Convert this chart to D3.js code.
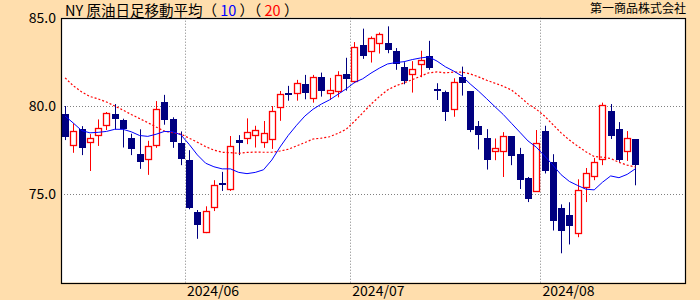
<!DOCTYPE html>
<html>
<head>
<meta charset="utf-8">
<script src="https://cdn.jsdelivr.net/npm/d3@7"></script>
<style>
  body { margin: 0; background: #ffdead; }
  svg { display: block; }
  text { font-family: 'Noto Sans CJK JP', sans-serif; }
</style>
</head>
<body>
<svg id="chart" width="700" height="300"></svg>
<script>
// trading days shown, per month
const mayDays = [13, 14, 15, 16, 17, 20, 21, 22, 23, 24, 27, 28, 29, 30, 31]
const junDays = [3, 4, 5, 6, 7, 10, 11, 12, 13, 14, 17, 18, 19, 20, 21, 24, 25, 26, 27, 28]
const julDays = [1, 2, 3, 4, 5, 8, 9, 10, 11, 12, 15, 16, 17, 18, 19, 22, 23, 24, 25, 26, 29, 30, 31]
const augDays = [1, 2, 5, 6, 7, 8, 9, 12, 13, 14, 15, 16]

const opens = [
  79.55, 77.77, 78.69, 77.97, 78.34, 78.90, 79.55, 79.20, 78.20, 77.29,
  77.01, 77.77, 80.23, 79.26, 77.90, 76.93, 73.98, 72.86, 74.28, 75.58,
  75.32, 78.07, 78.20, 78.34, 77.94, 78.11, 79.93, 80.68, 80.72, 81.25,
  80.45, 81.63, 80.72, 80.84, 81.82, 81.44, 83.43, 83.14, 83.56, 83.56,
  83.11, 82.20, 81.80, 82.37, 82.84, 80.89, 80.81, 79.81, 81.63, 80.85,
  78.90, 78.22, 77.44, 77.48, 78.30, 77.27, 75.93, 75.21, 78.58, 76.84,
  74.20, 73.81, 72.80, 75.41, 76.01, 76.99, 79.72, 78.69, 77.48, 78.13
]
const highs = [
  80.00, 79.02, 78.86, 78.41, 79.24, 79.66, 80.11, 79.28, 78.43, 78.68,
  78.03, 80.28, 80.63, 79.36, 78.56, 77.50, 74.11, 74.32, 75.80, 76.27,
  78.30, 78.35, 79.30, 78.88, 79.15, 80.00, 80.85, 81.14, 81.48, 81.76,
  81.76, 81.89, 81.59, 81.97, 82.73, 83.62, 84.38, 83.94, 84.16, 84.51,
  83.28, 82.48, 82.54, 83.13, 83.69, 81.29, 80.87, 81.57, 82.23, 80.85,
  79.15, 78.69, 78.16, 78.52, 78.30, 77.63, 75.98, 78.64, 78.88, 77.27,
  74.43, 74.55, 75.85, 76.49, 77.06, 80.19, 80.11, 79.09, 78.58, 78.13
]
const lows = [
  78.07, 77.35, 77.22, 76.32, 77.74, 78.64, 78.68, 77.65, 77.22, 76.44,
  76.10, 77.63, 78.94, 77.63, 76.65, 74.15, 72.48, 72.80, 74.05, 75.19,
  75.19, 77.22, 77.84, 77.65, 77.63, 77.57, 79.16, 80.30, 80.30, 80.38,
  80.19, 80.53, 80.34, 80.49, 80.87, 81.29, 82.67, 82.46, 82.97, 82.99,
  82.05, 81.23, 80.76, 81.63, 82.05, 80.34, 79.15, 79.39, 80.59, 78.52,
  77.54, 76.40, 76.93, 75.98, 76.65, 75.30, 74.56, 75.15, 76.18, 72.95,
  71.66, 72.16, 72.57, 74.56, 75.80, 76.65, 78.13, 76.84, 76.89, 75.51
]
const closes = [
  78.26, 78.56, 77.63, 78.16, 78.73, 79.59, 79.26, 78.69, 77.56, 76.84,
  77.73, 79.83, 79.20, 77.94, 77.01, 74.22, 73.24, 74.07, 75.55, 75.56,
  77.73, 77.91, 78.51, 78.62, 78.45, 79.72, 80.66, 80.66, 81.29, 80.72,
  81.63, 80.84, 80.89, 81.74, 81.53, 83.34, 82.80, 83.85, 84.07, 83.14,
  82.37, 81.38, 82.09, 82.60, 82.18, 80.87, 79.68, 81.38, 81.29, 78.64,
  78.37, 76.95, 77.60, 78.28, 77.16, 75.81, 74.73, 77.88, 76.29, 73.48,
  72.91, 73.20, 75.23, 76.18, 76.82, 80.06, 78.31, 76.95, 78.16, 76.66
]
// moving averages as plotted (10-day blue, 20-day red)
const ma10 = [
  79.43, 79.03, 78.61, 78.48, 78.51, 78.56, 78.68, 78.68, 78.54, 78.33,
  78.28, 78.40, 78.56, 78.54, 78.37, 77.83, 77.23, 76.76, 76.56, 76.44,
  76.44, 76.24, 76.17, 76.24, 76.39, 76.94, 77.68, 78.34, 78.91, 79.43,
  79.82, 80.11, 80.35, 80.66, 80.97, 81.33, 81.54, 81.86, 82.14, 82.38,
  82.46, 82.51, 82.63, 82.72, 82.78, 82.54, 82.22, 81.98, 81.70, 81.25,
  80.85, 80.41, 79.96, 79.52, 79.02, 78.52, 78.02, 77.67, 77.17, 76.66,
  76.11, 75.73, 75.50, 75.29, 75.25, 75.68, 76.04, 75.94, 76.13, 76.45
]
const ma20 = [
  81.59, 81.14, 80.80, 80.54, 80.40, 80.23, 80.00, 79.77, 79.52, 79.29,
  79.06, 78.81, 78.58, 78.49, 78.41, 78.18, 77.95, 77.70, 77.50, 77.38,
  77.36, 77.32, 77.37, 77.39, 77.38, 77.38, 77.45, 77.55, 77.74, 77.93,
  78.13, 78.18, 78.26, 78.45, 78.68, 79.13, 79.61, 80.10, 80.53, 80.91,
  81.14, 81.31, 81.49, 81.69, 81.88, 81.93, 81.88, 81.92, 81.92, 81.82,
  81.65, 81.46, 81.29, 81.12, 80.90, 80.53, 80.12, 79.82, 79.43, 78.95,
  78.48, 78.07, 77.73, 77.41, 77.14, 77.10, 77.03, 76.81, 76.65, 76.55
]
const yTicks = [75, 80, 85]
const yGridValues = [75, 80]

const pad = d => String(d).padStart(2, '0')
const dates = [
  ...mayDays.map(d => `2024/05/${pad(d)}`),
  ...junDays.map(d => `2024/06/${pad(d)}`),
  ...julDays.map(d => `2024/07/${pad(d)}`),
  ...augDays.map(d => `2024/08/${pad(d)}`)
]
const monthStarts = dates.filter((d, i) => i > 0 && d.slice(5, 7) !== dates[i - 1].slice(5, 7))

const UP_COLOR = '#ff0000'
const DOWN_COLOR = '#000080'
const plot = { left: 61, right: 686, top: 17.7, bottom: 282.6 }
const slotWidth = 8.266
const bodyWidth = 7

const svg = d3.select('#chart')

svg.append('rect')
  .attr('x', plot.left)
  .attr('y', plot.top)
  .attr('width', plot.right - plot.left)
  .attr('height', plot.bottom - plot.top)
  .attr('fill', '#ffffff')

const x = d3.scaleBand()
  .domain(dates)
  .range([plot.left, plot.left + dates.length * slotWidth])
const y = d3.scaleLinear()
  .domain([70, 85])
  .range([plot.bottom, plot.top])
const cx = d => Math.round(x(d) + x.bandwidth() / 2)

// grid
const grid = svg.append('g')
  .attr('stroke', '#808080')
  .attr('stroke-dasharray', '1,2')
grid.selectAll('line.h')
  .data(yGridValues)
  .enter()
  .append('line')
  .attr('x1', plot.left)
  .attr('x2', plot.right)
  .attr('y1', d => Math.round(y(d)) + 0.5)
  .attr('y2', d => Math.round(y(d)) + 0.5)
grid.selectAll('line.v')
  .data(monthStarts)
  .enter()
  .append('line')
  .attr('x1', d => Math.round(x(d)) + 0.5)
  .attr('x2', d => Math.round(x(d)) + 0.5)
  .attr('y1', plot.top)
  .attr('y2', plot.bottom)

// candles
svg.append('g')
  .selectAll('g')
  .data(dates)
  .enter()
  .append('g')
  .each(function (d, i) {
    const g = d3.select(this)
    const isUp = closes[i] > opens[i]
    const color = isUp ? UP_COLOR : DOWN_COLOR
    const xc = cx(d)
    g.append('line')
      .attr('x1', xc + 0.5)
      .attr('x2', xc + 0.5)
      .attr('y1', y(highs[i]))
      .attr('y2', y(lows[i]))
      .attr('stroke', color)
      .attr('stroke-width', 1)
    const top = y(Math.max(opens[i], closes[i]))
    const bottom = y(Math.min(opens[i], closes[i]))
    if (isUp) {
      g.append('rect')
        .attr('x', xc - 3 + 0.5)
        .attr('y', Math.round(top) + 0.5)
        .attr('width', bodyWidth - 1)
        .attr('height', Math.max(1, Math.round(bottom) - Math.round(top)))
        .attr('fill', '#ffffff')
        .attr('stroke', color)
        .attr('stroke-width', 1.3)
    } else {
      const h = Math.max(2, Math.round(bottom - top))
      g.append('rect')
        .attr('x', xc - 3)
        .attr('y', Math.round((top + bottom) / 2 - h / 2))
        .attr('width', bodyWidth)
        .attr('height', h)
        .attr('fill', color)
    }
  })

// moving averages
const maLine = d3.line()
  .x((v, i) => x(dates[i]) + x.bandwidth() / 2)
  .y(v => y(v))

svg.append('path')
  .datum(ma20)
  .attr('d', maLine)
  .attr('fill', 'none')
  .attr('stroke', '#ff0000')
  .attr('stroke-width', 1.2)
  .attr('stroke-dasharray', '2,2')

svg.append('path')
  .datum(ma10)
  .attr('d', maLine)
  .attr('fill', 'none')
  .attr('stroke', '#0000ff')
  .attr('stroke-width', 1)

// frame
svg.append('rect')
  .attr('x', plot.left + 0.5)
  .attr('y', Math.round(plot.top) + 0.5)
  .attr('width', plot.right - plot.left - 1)
  .attr('height', Math.round(plot.bottom) - Math.round(plot.top))
  .attr('fill', 'none')
  .attr('stroke', '#000000')
  .attr('stroke-width', 1.2)

// axes
const yAxis = svg.append('g')
  .attr('transform', `translate(${plot.left}, 0)`)
  .call(d3.axisLeft(y).tickValues(yTicks).tickFormat(d3.format('.1f')).tickSize(0).tickPadding(5))
yAxis.select('.domain').remove()
yAxis.selectAll('text')
  .style('font-family', "'Noto Sans CJK JP', sans-serif")
  .style('font-size', '14px')
  .attr('fill', '#000000')

const xAxis = svg.append('g')
  .attr('transform', `translate(0, ${plot.bottom})`)
  .call(d3.axisBottom(x).tickValues(monthStarts).tickFormat(d => d.slice(0, 7)).tickSize(0).tickPadding(3))
xAxis.select('.domain').remove()
xAxis.selectAll('text')
  .attr('text-anchor', 'start')
  .attr('x', -x.bandwidth() / 2 + 2)
  .style('font-family', "'Noto Sans CJK JP', sans-serif")
  .style('font-size', '14px')
  .attr('fill', '#000000')

// titles
const title = svg.append('text')
  .attr('x', 65)
  .attr('y', 16)
  .style('font-size', '14.5px')
  .attr('fill', '#000000')
title.append('tspan').text('NY 原油日足移動平均（ ')
title.append('tspan').attr('fill', '#0000ff').text('10')
title.append('tspan').text(' ）（ ')
title.append('tspan').attr('fill', '#ff0000').text('20')
title.append('tspan').text(' ）')

svg.append('text')
  .attr('x', 686)
  .attr('y', 13)
  .attr('text-anchor', 'end')
  .style('font-size', '12px')
  .attr('fill', '#000000')
  .text('第一商品株式会社')
</script>
</body>
</html>
